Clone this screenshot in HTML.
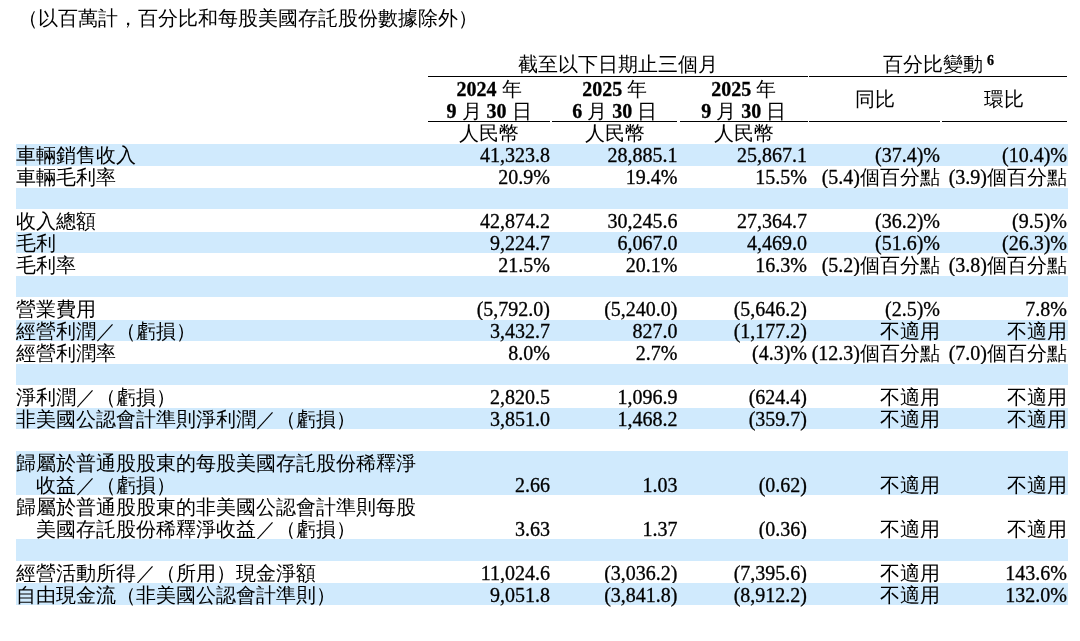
<!DOCTYPE html>
<html lang="zh-Hant"><head><meta charset="utf-8">
<style>
html,body{margin:0;padding:0;background:#fff;}
body{will-change:transform;}
body{width:1080px;height:641px;position:relative;overflow:hidden;font-family:"Liberation Serif",serif;font-size:20px;line-height:22px;color:#000;-webkit-font-smoothing:antialiased;-webkit-text-stroke:0.3px #000;}
.a{position:absolute;white-space:nowrap;}
.r{position:absolute;white-space:nowrap;text-align:right;}
.c{position:absolute;white-space:nowrap;text-align:center;}
.band{position:absolute;left:16px;width:1052px;background:#d0eafd;}
.ln{position:absolute;height:1px;background:#000;}
b{font-weight:bold;}
.k{-webkit-text-stroke:0;}
</style></head><body>

<div class="a" style="left:18px;top:7px"><span class="k">（以百萬計，百分比和每股美國存託股份數據除外）</span></div>
<div class="c" style="left:428px;width:380px;top:53px"><span class="k">截至以下日期止三個月</span></div>
<div class="a" style="left:883px;top:53px"><span class="k">百分比變動</span></div>
<div class="a" style="left:987px;top:54px;font-size:14px;line-height:14px;font-weight:bold">6</div>
<div class="ln" style="left:428px;width:380px;top:76px"></div>
<div class="ln" style="left:809px;width:258px;top:76px"></div>
<div class="c" style="left:428px;width:122px;top:78px"><b>2024</b> <span class="k">年</span></div>
<div class="c" style="left:428px;width:122px;top:100px"><b>9</b> <span class="k">月</span> <b>30</b> <span class="k">日</span></div>
<div class="c" style="left:428px;width:122px;top:122px"><span class="k">人民幣</span></div>
<div class="ln" style="left:428px;width:122px;top:121px"></div>
<div class="c" style="left:552px;width:125.3px;top:78px"><b>2025</b> <span class="k">年</span></div>
<div class="c" style="left:552px;width:125.3px;top:100px"><b>6</b> <span class="k">月</span> <b>30</b> <span class="k">日</span></div>
<div class="c" style="left:552px;width:125.3px;top:122px"><span class="k">人民幣</span></div>
<div class="ln" style="left:552px;width:125.3px;top:121px"></div>
<div class="c" style="left:679.6px;width:128.4px;top:78px"><b>2025</b> <span class="k">年</span></div>
<div class="c" style="left:679.6px;width:128.4px;top:100px"><b>9</b> <span class="k">月</span> <b>30</b> <span class="k">日</span></div>
<div class="c" style="left:679.6px;width:128.4px;top:122px"><span class="k">人民幣</span></div>
<div class="ln" style="left:679.6px;width:128.4px;top:121px"></div>
<div class="c" style="left:809px;width:131px;top:88px"><span class="k">同比</span></div>
<div class="ln" style="left:809px;width:131px;top:121px"></div>
<div class="c" style="left:941.7px;width:125.3px;top:88px"><span class="k">環比</span></div>
<div class="ln" style="left:941.7px;width:125.3px;top:121px"></div>
<div class="band" style="top:144px;height:22px"></div>
<div class="a" style="left:16px;top:144px"><span class="k">車輛銷售收入</span></div>
<div class="r" style="right:530px;top:144px">41,323.8</div>
<div class="r" style="right:402.5px;top:144px">28,885.1</div>
<div class="r" style="right:273px;top:144px">25,867.1</div>
<div class="r" style="right:140px;top:144px">(37.4)%</div>
<div class="r" style="right:13px;top:144px">(10.4)%</div>
<div class="a" style="left:16px;top:166px"><span class="k">車輛毛利率</span></div>
<div class="r" style="right:530px;top:166px">20.9%</div>
<div class="r" style="right:402.5px;top:166px">19.4%</div>
<div class="r" style="right:273px;top:166px">15.5%</div>
<div class="r" style="right:140px;top:166px">(5.4)<span class="k">個百分點</span></div>
<div class="r" style="right:13px;top:166px">(3.9)<span class="k">個百分點</span></div>
<div class="band" style="top:188px;height:21px"></div>
<div class="a" style="left:16px;top:210px"><span class="k">收入總額</span></div>
<div class="r" style="right:530px;top:210px">42,874.2</div>
<div class="r" style="right:402.5px;top:210px">30,245.6</div>
<div class="r" style="right:273px;top:210px">27,364.7</div>
<div class="r" style="right:140px;top:210px">(36.2)%</div>
<div class="r" style="right:13px;top:210px">(9.5)%</div>
<div class="band" style="top:232px;height:21px"></div>
<div class="a" style="left:16px;top:232px"><span class="k">毛利</span></div>
<div class="r" style="right:530px;top:232px">9,224.7</div>
<div class="r" style="right:402.5px;top:232px">6,067.0</div>
<div class="r" style="right:273px;top:232px">4,469.0</div>
<div class="r" style="right:140px;top:232px">(51.6)%</div>
<div class="r" style="right:13px;top:232px">(26.3)%</div>
<div class="a" style="left:16px;top:254px"><span class="k">毛利率</span></div>
<div class="r" style="right:530px;top:254px">21.5%</div>
<div class="r" style="right:402.5px;top:254px">20.1%</div>
<div class="r" style="right:273px;top:254px">16.3%</div>
<div class="r" style="right:140px;top:254px">(5.2)<span class="k">個百分點</span></div>
<div class="r" style="right:13px;top:254px">(3.8)<span class="k">個百分點</span></div>
<div class="band" style="top:276px;height:21px"></div>
<div class="a" style="left:16px;top:298px"><span class="k">營業費用</span></div>
<div class="r" style="right:530px;top:298px">(5,792.0)</div>
<div class="r" style="right:402.5px;top:298px">(5,240.0)</div>
<div class="r" style="right:273px;top:298px">(5,646.2)</div>
<div class="r" style="right:140px;top:298px">(2.5)%</div>
<div class="r" style="right:13px;top:298px">7.8%</div>
<div class="band" style="top:320px;height:21px"></div>
<div class="a" style="left:16px;top:320px"><span class="k">經營利潤／（虧損）</span></div>
<div class="r" style="right:530px;top:320px">3,432.7</div>
<div class="r" style="right:402.5px;top:320px">827.0</div>
<div class="r" style="right:273px;top:320px">(1,177.2)</div>
<div class="r" style="right:140px;top:320px"><span class="k">不適用</span></div>
<div class="r" style="right:13px;top:320px"><span class="k">不適用</span></div>
<div class="a" style="left:16px;top:342px"><span class="k">經營利潤率</span></div>
<div class="r" style="right:530px;top:342px">8.0%</div>
<div class="r" style="right:402.5px;top:342px">2.7%</div>
<div class="r" style="right:273px;top:342px">(4.3)%</div>
<div class="r" style="right:140px;top:342px">(12.3)<span class="k">個百分點</span></div>
<div class="r" style="right:13px;top:342px">(7.0)<span class="k">個百分點</span></div>
<div class="band" style="top:364px;height:21px"></div>
<div class="a" style="left:16px;top:386px"><span class="k">淨利潤／（虧損）</span></div>
<div class="r" style="right:530px;top:386px">2,820.5</div>
<div class="r" style="right:402.5px;top:386px">1,096.9</div>
<div class="r" style="right:273px;top:386px">(624.4)</div>
<div class="r" style="right:140px;top:386px"><span class="k">不適用</span></div>
<div class="r" style="right:13px;top:386px"><span class="k">不適用</span></div>
<div class="band" style="top:408px;height:21px"></div>
<div class="a" style="left:16px;top:408px"><span class="k">非美國公認會計準則淨利潤／（虧損）</span></div>
<div class="r" style="right:530px;top:408px">3,851.0</div>
<div class="r" style="right:402.5px;top:408px">1,468.2</div>
<div class="r" style="right:273px;top:408px">(359.7)</div>
<div class="r" style="right:140px;top:408px"><span class="k">不適用</span></div>
<div class="r" style="right:13px;top:408px"><span class="k">不適用</span></div>
<div class="band" style="top:451px;height:44px"></div>
<div class="a" style="left:16px;top:452px"><span class="k">歸屬於普通股股東的每股美國存託股份稀釋淨</span></div>
<div class="a" style="left:36px;top:474px"><span class="k">收益／（虧損）</span></div>
<div class="r" style="right:530px;top:474px">2.66</div>
<div class="r" style="right:402.5px;top:474px">1.03</div>
<div class="r" style="right:273px;top:474px">(0.62)</div>
<div class="r" style="right:140px;top:474px"><span class="k">不適用</span></div>
<div class="r" style="right:13px;top:474px"><span class="k">不適用</span></div>
<div class="a" style="left:16px;top:496px"><span class="k">歸屬於普通股股東的非美國公認會計準則每股</span></div>
<div class="a" style="left:36px;top:518px"><span class="k">美國存託股份稀釋淨收益／（虧損）</span></div>
<div class="r" style="right:530px;top:518px">3.63</div>
<div class="r" style="right:402.5px;top:518px">1.37</div>
<div class="r" style="right:273px;top:518px">(0.36)</div>
<div class="r" style="right:140px;top:518px"><span class="k">不適用</span></div>
<div class="r" style="right:13px;top:518px"><span class="k">不適用</span></div>
<div class="band" style="top:539px;height:22px"></div>
<div class="a" style="left:16px;top:562px"><span class="k">經營活動所得／（所用）現金淨額</span></div>
<div class="r" style="right:530px;top:562px">11,024.6</div>
<div class="r" style="right:402.5px;top:562px">(3,036.2)</div>
<div class="r" style="right:273px;top:562px">(7,395.6)</div>
<div class="r" style="right:140px;top:562px"><span class="k">不適用</span></div>
<div class="r" style="right:13px;top:562px">143.6%</div>
<div class="band" style="top:583px;height:22px"></div>
<div class="a" style="left:16px;top:584px"><span class="k">自由現金流（非美國公認會計準則）</span></div>
<div class="r" style="right:530px;top:584px">9,051.8</div>
<div class="r" style="right:402.5px;top:584px">(3,841.8)</div>
<div class="r" style="right:273px;top:584px">(8,912.2)</div>
<div class="r" style="right:140px;top:584px"><span class="k">不適用</span></div>
<div class="r" style="right:13px;top:584px">132.0%</div>
</body></html>
